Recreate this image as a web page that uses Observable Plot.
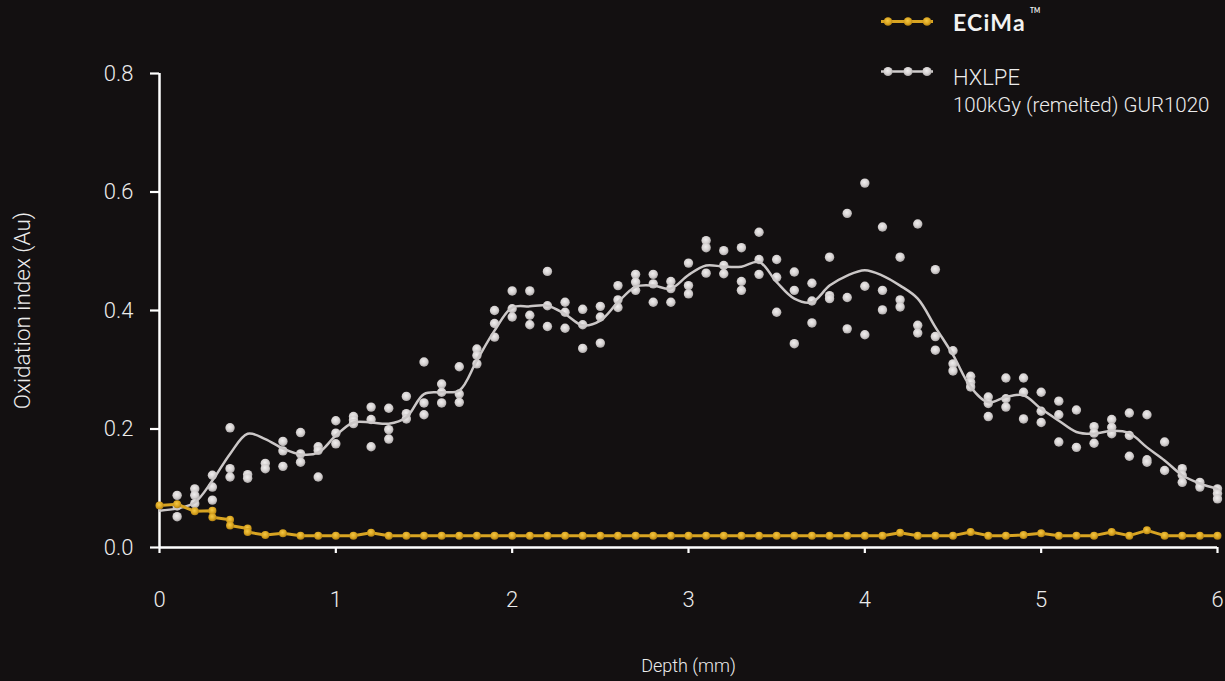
<!DOCTYPE html>
<html>
<head>
<meta charset="utf-8">
<script src="https://cdn.jsdelivr.net/npm/d3@7"></script>
<script src="https://cdn.jsdelivr.net/npm/@observablehq/plot@0.6"></script>
<style>
  html, body { margin: 0; padding: 0; background: #131011; }
  #wrap { position: relative; width: 1225px; height: 681px; overflow: hidden; background: #131011; }
  #legend { position: absolute; left: 870px; top: 0; }
  #chart svg { display: block; }
</style>
</head>
<body>
<svg width="0" height="0" style="position:absolute">
  <defs>
    <radialGradient id="grayBall" cx="45%" cy="40%" r="60%">
      <stop offset="0%" stop-color="#f0eeee"/>
      <stop offset="60%" stop-color="#d6d2d2"/>
      <stop offset="100%" stop-color="#aba7a7"/>
    </radialGradient>
    <radialGradient id="goldBall" cx="45%" cy="40%" r="60%">
      <stop offset="0%" stop-color="#f4c845"/>
      <stop offset="60%" stop-color="#dba622"/>
      <stop offset="100%" stop-color="#b08012"/>
    </radialGradient>
  </defs>
</svg>
<div id="wrap">
  <div id="chart"></div>
  <svg id="legend" width="355" height="125">
    <line x1="11" y1="21.5" x2="63" y2="21.5" stroke="#d8a422" stroke-width="3"/>
    <circle cx="18" cy="21.5" r="4.3" fill="url(#goldBall)"/>
    <circle cx="38" cy="21.5" r="4.3" fill="url(#goldBall)"/>
    <circle cx="57" cy="21.5" r="4.3" fill="url(#goldBall)"/>
    <text x="83" y="30.5" fill="#f2f2f2" font-family="Lato, 'Open Sans', sans-serif" font-weight="700" font-size="23" letter-spacing="1.2">ECiMa</text>
    <text x="160" y="13" fill="#f2f2f2" font-family="Lato, sans-serif" font-weight="700" font-size="6.5">TM</text>
    <line x1="11" y1="71.5" x2="63" y2="71.5" stroke="#cfcbcb" stroke-width="2.5"/>
    <circle cx="18" cy="71.5" r="4.6" fill="url(#grayBall)"/>
    <circle cx="38" cy="71.5" r="4.6" fill="url(#grayBall)"/>
    <circle cx="57" cy="71.5" r="4.6" fill="url(#grayBall)"/>
    <text x="83" y="85" fill="#ececec" font-family="Roboto, 'Liberation Sans', sans-serif" font-weight="300" font-size="22">HXLPE</text>
    <text x="83" y="111.5" fill="#ececec" font-family="Roboto, 'Liberation Sans', sans-serif" font-weight="300" font-size="20.5">100kGy (remelted) GUR1020</text>
  </svg>
</div>
<script>
// ---------- DATA ----------
const xTicks = [0, 1, 2, 3, 4, 5, 6];
const yTicks = [0, 0.2, 0.4, 0.6, 0.8];

// HXLPE individual measurements, one group per depth (mm)
const hxlpeDepths = [
  0.1,0.2,0.3,0.4,0.5,0.6,0.7,0.8,0.9,1.0,
  1.1,1.2,1.3,1.4,1.5,1.6,1.7,1.8,1.9,2.0,
  2.1,2.2,2.3,2.4,2.5,2.6,2.7,2.8,2.9,3.0,
  3.1,3.2,3.3,3.4,3.5,3.6,3.7,3.8,3.9,4.0,
  4.1,4.2,4.3,4.4,4.5,4.6,4.7,4.8,4.9,5.0,
  5.1,5.2,5.3,5.4,5.5,5.6,5.7,5.8,5.9,6.0
];
const hxlpeSamples = [
  [0.088,0.070,0.052],[0.099,0.088,0.074],[0.122,0.102,0.080],[0.202,0.133,0.119],[0.123,0.117],
  [0.142,0.133],[0.179,0.163,0.137],[0.194,0.158,0.144],[0.170,0.164,0.119],[0.214,0.193,0.175],
  [0.221,0.215,0.209],[0.237,0.216,0.170],[0.235,0.199,0.183],[0.255,0.226,0.217],[0.313,0.244,0.224],
  [0.276,0.262,0.244],[0.305,0.259,0.245],[0.335,0.324,0.310],[0.400,0.378,0.355],[0.433,0.403,0.389],
  [0.433,0.392,0.376],[0.466,0.408,0.373],[0.414,0.397,0.370],[0.402,0.376,0.336],[0.407,0.389,0.345],
  [0.442,0.418,0.405],[0.461,0.448,0.434],[0.461,0.445,0.414],[0.449,0.437,0.414],[0.480,0.442,0.428],
  [0.518,0.506,0.463],[0.501,0.476,0.462],[0.506,0.449,0.434],[0.532,0.486,0.461],[0.486,0.456,0.397],
  [0.465,0.434,0.344],[0.446,0.416,0.379],[0.490,0.425,0.420],[0.564,0.422,0.369],[0.615,0.441,0.359],
  [0.541,0.434,0.401],[0.490,0.418,0.406],[0.546,0.375,0.362],[0.469,0.356,0.333],[0.332,0.310,0.298],
  [0.289,0.279,0.271],[0.254,0.243,0.221],[0.286,0.251,0.237],[0.286,0.262,0.217],[0.262,0.230,0.211],
  [0.247,0.224,0.178],[0.232,0.169],[0.204,0.193,0.176],[0.216,0.203,0.192],[0.227,0.189,0.154],
  [0.224,0.148,0.144],[0.178,0.130],[0.133,0.122,0.110],[0.110,0.102],[0.099,0.091,0.082]
];

// HXLPE smoothed trend, depths 0.0 .. 6.0 step 0.1
const trendDepths = [
  0.0,0.1,0.2,0.3,0.4,0.5,0.6,0.7,0.8,0.9,
  1.0,1.1,1.2,1.3,1.4,1.5,1.6,1.7,1.8,1.9,
  2.0,2.1,2.2,2.3,2.4,2.5,2.6,2.7,2.8,2.9,
  3.0,3.1,3.2,3.3,3.4,3.5,3.6,3.7,3.8,3.9,
  4.0,4.1,4.2,4.3,4.4,4.5,4.6,4.7,4.8,4.9,
  5.0,5.1,5.2,5.3,5.4,5.5,5.6,5.7,5.8,5.9,6.0
];
const trendValues = [
  0.062,0.066,0.076,0.113,0.158,0.192,0.183,0.167,0.157,0.160,
  0.189,0.211,0.211,0.209,0.220,0.259,0.262,0.265,0.316,0.366,
  0.405,0.407,0.408,0.394,0.375,0.383,0.414,0.440,0.442,0.437,
  0.460,0.476,0.474,0.474,0.482,0.448,0.420,0.414,0.442,0.459,
  0.468,0.459,0.442,0.420,0.372,0.325,0.271,0.245,0.254,0.257,
  0.234,0.214,0.195,0.192,0.197,0.193,0.169,0.147,0.122,0.108,0.099
];

// ECiMa measurements
const ecimaDepths = [
  0.0,0.1,0.2,0.3,0.3,0.4,0.4,0.5,0.5,0.6,0.7,0.8,0.9,
  1.0,1.1,1.2,1.3,1.4,1.5,1.6,1.7,1.8,1.9,
  2.0,2.1,2.2,2.3,2.4,2.5,2.6,2.7,2.8,2.9,
  3.0,3.1,3.2,3.3,3.4,3.5,3.6,3.7,3.8,3.9,
  4.0,4.1,4.2,4.3,4.4,4.5,4.6,4.7,4.8,4.9,
  5.0,5.1,5.2,5.3,5.4,5.5,5.6,5.7,5.8,5.9,6.0
];
const ecimaValues = [
  0.071,0.073,0.061,0.062,0.051,0.047,0.037,0.032,0.026,0.021,0.024,0.020,0.020,
  0.020,0.020,0.025,0.020,0.020,0.020,0.020,0.020,0.020,0.020,
  0.020,0.020,0.020,0.020,0.020,0.020,0.020,0.020,0.020,0.020,
  0.020,0.020,0.020,0.020,0.020,0.020,0.020,0.020,0.020,0.020,
  0.020,0.020,0.025,0.020,0.020,0.020,0.026,0.020,0.020,0.021,
  0.024,0.020,0.020,0.020,0.026,0.020,0.029,0.020,0.020,0.020,0.020
];

// ---------- BUILD TABLES ----------
const hxlpePoints = hxlpeDepths.flatMap((d, i) => hxlpeSamples[i].map(v => ({depth: d, value: v})));
const trend = trendDepths.map((d, i) => ({depth: d, value: trendValues[i]}));
const ecima = ecimaDepths.map((d, i) => ({depth: d, value: ecimaValues[i]}));

const font = "Roboto, 'Liberation Sans', sans-serif";
const txt = "#ececec";

const chart = Plot.plot({
  width: 1225,
  height: 681,
  marginLeft: 159,
  marginRight: 8,
  marginTop: 73,
  marginBottom: 134,
  style: {background: "#131011", color: txt, fontFamily: font, fontSize: "22px", fontWeight: 300, overflow: "visible"},
  x: {domain: [0, 6], ticks: xTicks, label: null},
  y: {domain: [0, 0.8], ticks: yTicks, label: null},
  marks: [
    Plot.axisY({ticks: yTicks, tickFormat: d3.format(".1f"), tickSize: 9, tickPadding: 17, stroke: "#fff", strokeWidth: 2.2, fill: txt, fontSize: 22, label: null}),
    Plot.axisX({ticks: xTicks, tickFormat: d => String(d), tickSize: 6, tickPadding: 38, stroke: "#fff", strokeWidth: 2.2, fill: txt, fontSize: 22, label: null}),
    Plot.ruleX([0], {stroke: "#fff", strokeWidth: 2.5}),
    Plot.ruleY([0], {stroke: "#fff", strokeWidth: 2.5}),
    Plot.text(["Oxidation index (Au)"], {frameAnchor: "left", dx: -137, rotate: -90, fontSize: 22.5, fill: txt, textAnchor: "middle", lineAnchor: "middle"}),
    Plot.text(["Depth (mm)"], {frameAnchor: "bottom", dy: 119, fontSize: 18, fill: txt, textAnchor: "middle", lineAnchor: "middle"}),
    Plot.dot(hxlpePoints, {x: "depth", y: "value", r: 4.7, fill: "url(#grayBall)", stroke: "none"}),
    Plot.line(trend, {x: "depth", y: "value", stroke: "#cbc7c7", strokeWidth: 2.5, curve: "catmull-rom"}),
    Plot.line(ecima, {x: "depth", y: "value", stroke: "#d8a422", strokeWidth: 3}),
    Plot.dot(ecima, {x: "depth", y: "value", r: 4, fill: "url(#goldBall)", stroke: "none"})
  ]
});
document.getElementById("chart").appendChild(chart);
</script>
</body>
</html>
